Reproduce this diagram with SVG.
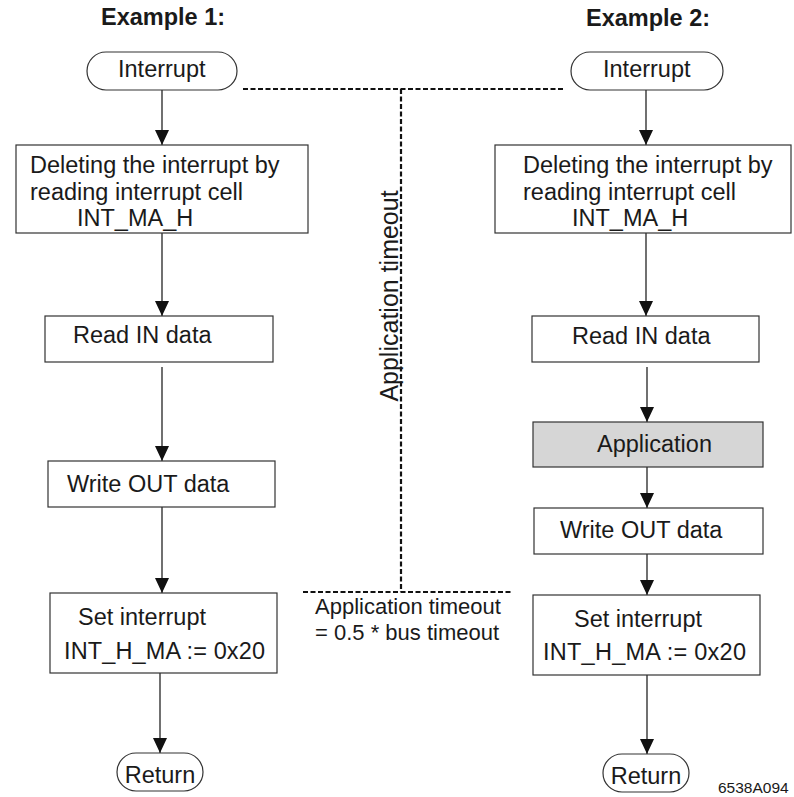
<svg xmlns="http://www.w3.org/2000/svg" width="794" height="797" viewBox="0 0 794 797">
<defs>
<marker id="ah" viewBox="0 0 15 14" refX="15" refY="7" markerWidth="15" markerHeight="14" markerUnits="userSpaceOnUse" orient="auto"><path d="M0,0 L15,7 L0,14 z" fill="#111"/></marker>
<style>
text{font-family:"Liberation Sans",Arial,Helvetica,sans-serif;fill:#1a1a1a}
.t{font-size:23.5px}
.h{font-size:23.5px;font-weight:bold}
.a{font-size:22px}
.box{fill:#fff;stroke:#333;stroke-width:1.2}
.gray{fill:#d6d6d6}
.ln{stroke:#111;stroke-width:1.2;fill:none;marker-end:url(#ah)}
.dash{stroke:#111;stroke-width:2.2;stroke-dasharray:5 2.5;fill:none}
</style>
</defs>
<rect width="794" height="797" fill="#fff"/>

<text class="h" x="101" y="25">Example 1:</text>
<text class="h" x="586" y="26">Example 2:</text>

<g id="connectors">
<path class="ln" d="M162,90 V145"/>
<path class="ln" d="M162,233 V316"/>
<path class="ln" d="M162,367 V461"/>
<path class="ln" d="M162,507 V593"/>
<path class="ln" d="M160,673 V753"/>
<path class="ln" d="M646,90 V145"/>
<path class="ln" d="M646,233 V316"/>
<path class="ln" d="M647,367 V422"/>
<path class="ln" d="M647,467 V508"/>
<path class="ln" d="M647,554 V595"/>
<path class="ln" d="M647,675 V754"/>
<path class="dash" d="M243,89 H563 M401,89 V592 M303,592 H513"/>
</g>

<g id="l_interrupt"><rect class="box" x="87" y="52" width="150" height="38" rx="19"/><text class="t" x="118" y="77">Interrupt</text></g>
<g id="l_delete"><rect class="box" x="16" y="145" width="292" height="88"/><text class="t" x="30" y="173">Deleting the interrupt by</text><text class="t" x="30" y="200">reading interrupt cell</text><text class="t" x="77" y="226">INT_MA_H</text></g>
<g id="l_read"><rect class="box" x="45" y="316" width="228" height="46"/><text class="t" x="73" y="343">Read IN data</text></g>
<g id="l_write"><rect class="box" x="48" y="461" width="227" height="46"/><text class="t" x="67" y="492">Write OUT data</text></g>
<g id="l_set"><rect class="box" x="50" y="593" width="227" height="80"/><text class="t" x="78" y="625">Set interrupt</text><text class="t" x="64" y="659" textLength="201" lengthAdjust="spacing">INT_H_MA := 0x20</text></g>
<g id="l_return"><rect class="box" x="117" y="753" width="86" height="38" rx="19"/><text class="t" x="160" y="783" text-anchor="middle">Return</text></g>

<g id="r_interrupt"><rect class="box" x="571" y="52" width="152" height="38" rx="19"/><text class="t" x="603" y="77">Interrupt</text></g>
<g id="r_delete"><rect class="box" x="495" y="145" width="296" height="88"/><text class="t" x="523" y="173">Deleting the interrupt by</text><text class="t" x="523" y="200">reading interrupt cell</text><text class="t" x="572" y="226">INT_MA_H</text></g>
<g id="r_read"><rect class="box" x="532" y="316" width="227" height="46"/><text class="t" x="572" y="344">Read IN data</text></g>
<g id="r_app"><rect class="box gray" x="533" y="422" width="230" height="45"/><text class="t" x="597" y="452">Application</text></g>
<g id="r_write"><rect class="box" x="534" y="508" width="229" height="46"/><text class="t" x="560" y="538">Write OUT data</text></g>
<g id="r_set"><rect class="box" x="533" y="595" width="227" height="80"/><text class="t" x="574" y="627">Set interrupt</text><text class="t" x="543" y="660" textLength="203" lengthAdjust="spacing">INT_H_MA := 0x20</text></g>
<g id="r_return"><rect class="box" x="603" y="754" width="86" height="38" rx="19"/><text class="t" x="646" y="784" text-anchor="middle">Return</text></g>

<g id="timeout_label"><text x="0" y="0" transform="translate(398,296) rotate(-90)" text-anchor="middle" style="font-size:25px">Application timeout</text></g>
<g id="timeout_note"><text class="a" x="315" y="614">Application timeout</text><text class="a" x="315" y="640">= 0.5 * bus timeout</text></g>
<text x="718" y="793" style="font-size:15.5px">6538A094</text>
</svg>
